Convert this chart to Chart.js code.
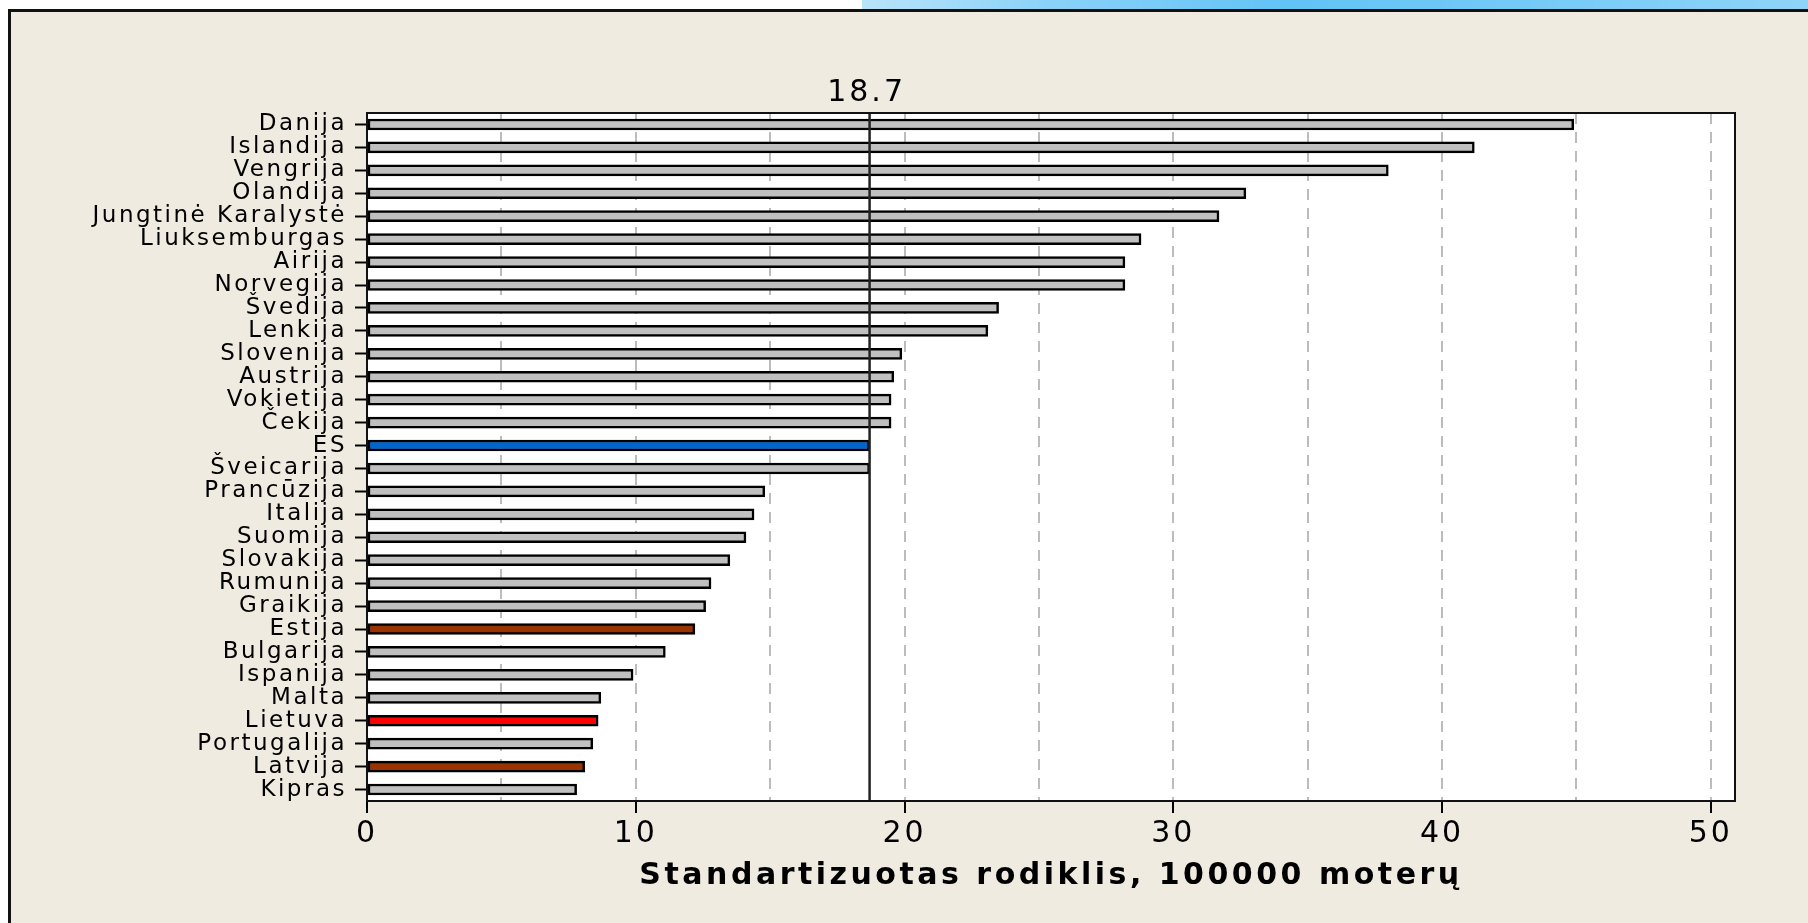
<!DOCTYPE html>
<html>
<head>
<meta charset="utf-8">
<title>Standartizuotas rodiklis, 100000 moterų</title>
<script src="https://cdn.jsdelivr.net/npm/chart.js@4.4.1/dist/chart.umd.min.js"></script>
<style>
    html, body { margin: 0; padding: 0; width: 1808px; height: 923px; overflow: hidden; background: #fff; }
    .swoosh {
        position: absolute; left: 862px; top: 0; width: 946px; height: 10px;
        background: linear-gradient(90deg, #b8e4fa 0%, #8ad2f8 20%, #62c3f5 45%, #74caf6 70%, #8fd4f8 100%);
    }
    .frame {
        position: absolute; left: 8px; top: 9px; width: 1900px; height: 1000px;
        border: 3px solid #111; background: #efebe1;
    }
    #chart { position: absolute; left: 0; top: 0; }
</style>
</head>
<body>
<div class="swoosh"></div>
<div class="frame"></div>
<canvas id="chart" width="1808" height="923"></canvas>
<script>
// Countries, top to bottom
const countries = [
    'Danija', 'Islandija', 'Vengrija', 'Olandija', 'Jungtinė Karalystė',
    'Liuksemburgas', 'Airija', 'Norvegija', 'Švedija', 'Lenkija',
    'Slovenija', 'Austrija', 'Vokietija', 'Čekija', 'ES',
    'Šveicarija', 'Prancūzija', 'Italija', 'Suomija', 'Slovakija',
    'Rumunija', 'Graikija', 'Estija', 'Bulgarija', 'Ispanija',
    'Malta', 'Lietuva', 'Portugalija', 'Latvija', 'Kipras'
];

// Standardised rate per 100000 women
const rates = [
    44.9, 41.2, 38.0, 32.7, 31.7,
    28.8, 28.2, 28.2, 23.5, 23.1,
    19.9, 19.6, 19.5, 19.5, 18.7,
    18.7, 14.8, 14.4, 14.1, 13.5,
    12.8, 12.6, 12.2, 11.1, 9.9,
    8.7, 8.6, 8.4, 8.1, 7.8
];

// EU average reference line
const EU_AVERAGE = 18.7;

// Labelled x ticks
const xTickLabels = [0, 10, 20, 30, 40, 50];

// Highlighted bars
const highlight = {
    'ES': '#0066cc',
    'Estija': '#993300',
    'Latvija': '#993300',
    'Lietuva': '#ff0000'
};

const FONT = 'DejaVu Sans';

// Wrap a scale's draw method so its text gets its own letter spacing
function spaced(scale, method, spacing) {
    if (scale['_sp_' + method]) return;
    scale['_sp_' + method] = true;
    const orig = scale[method];
    scale[method] = function (...args) {
        const c = this.ctx;
        const prev = c.letterSpacing;
        c.letterSpacing = spacing;
        orig.apply(this, args);
        c.letterSpacing = prev;
    };
}

// White plot area, reference line, box and its label
const plotDecor = {
    id: 'plotDecor',
    beforeDraw(chart) {
        const { ctx, chartArea: a } = chart;
        ctx.letterSpacing = '3px';
        ctx.save();
        ctx.fillStyle = '#ffffff';
        ctx.fillRect(a.left, a.top, a.width, a.height);
        ctx.restore();
    },
    afterDatasetsDraw(chart) {
        const { ctx, chartArea: a, scales: { x } } = chart;
        const px = x.getPixelForValue(EU_AVERAGE);
        ctx.save();
        ctx.strokeStyle = '#222';
        ctx.lineWidth = 2.5;
        ctx.beginPath();
        ctx.moveTo(px, a.top);
        ctx.lineTo(px, a.bottom);
        ctx.stroke();

        ctx.strokeStyle = '#111';
        ctx.lineWidth = 2;
        ctx.strokeRect(a.left, a.top, a.width, a.height);

        ctx.fillStyle = '#000';
        ctx.font = `30px "${FONT}"`;
        ctx.textAlign = 'center';
        ctx.textBaseline = 'alphabetic';
        ctx.fillText(String(EU_AVERAGE), px - 3, a.top - 12);
        ctx.restore();
    }
};

function initChart() {
    const ctx = document.getElementById('chart').getContext('2d');
    new Chart(ctx, {
        type: 'bar',
        data: {
            labels: countries,
            datasets: [{
                data: rates,
                backgroundColor: countries.map(c => highlight[c] || '#c0c0c0'),
                borderColor: '#000',
                borderWidth: 2.5,
                borderSkipped: false,
                barThickness: 11
            }]
        },
        options: {
            indexAxis: 'y',
            responsive: false,
            animation: false,
            devicePixelRatio: 1,
            layout: { padding: { top: 113, right: 73, left: 0, bottom: 0 } },
            plugins: {
                legend: { display: false },
                tooltip: { enabled: false }
            },
            scales: {
                x: {
                    type: 'linear',
                    min: 0,
                    max: 50.9,
                    afterFit(scale) {
                        scale.height = 122;
                        spaced(scale, 'drawTitle', '3.5px');
                    },
                    grid: {
                        color: c => (c.tick && c.tick.value === 0) ? 'rgba(0,0,0,0)' : '#bcbcbc',
                        lineWidth: 2,
                        tickLength: 12,
                        tickWidth: 2,
                        tickColor: c => (c.tick && xTickLabels.includes(c.tick.value)) ? '#000' : 'rgba(0,0,0,0)'
                    },
                    border: { display: true, color: '#111', width: 2, dash: [11, 8] },
                    ticks: {
                        stepSize: 5,
                        autoSkip: false,
                        maxRotation: 0,
                        includeBounds: false,
                        padding: 3,
                        color: '#000',
                        font: { family: FONT, size: 30 },
                        callback: v => xTickLabels.includes(v) ? String(v) : ''
                    },
                    title: {
                        display: true,
                        text: 'Standartizuotas rodiklis, 100000 moterų',
                        color: '#000',
                        font: { family: FONT, size: 30, weight: 'bold' },
                        padding: { top: 0, bottom: 29 }
                    }
                },
                y: {
                    afterFit(scale) {
                        scale.width = 367;
                        spaced(scale, 'drawLabels', '2.5px');
                    },
                    grid: {
                        drawOnChartArea: false,
                        offset: false,
                        tickLength: 12,
                        tickWidth: 2,
                        tickColor: '#000'
                    },
                    border: { display: true, color: '#111', width: 2 },
                    ticks: {
                        autoSkip: false,
                        padding: 8,
                        color: '#000',
                        font: { family: FONT, size: 23 }
                    }
                }
            }
        },
        plugins: [plotDecor]
    });
}

document.addEventListener('DOMContentLoaded', initChart);
</script>
</body>
</html>
